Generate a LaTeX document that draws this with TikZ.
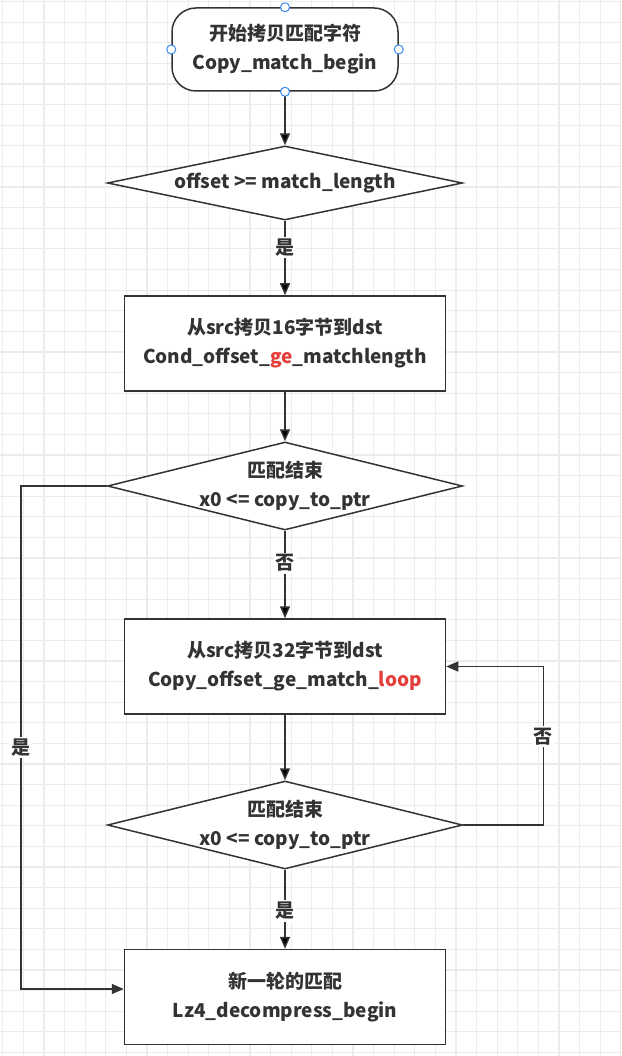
\documentclass[tikz,border=0pt]{standalone}
\usepackage{fontspec}
\setmainfont{Noto Sans CJK SC}
\usetikzlibrary{shapes.geometric,arrows.meta}
\definecolor{inkgray}{RGB}{51,51,51}
\definecolor{gridgray}{RGB}{236,236,236}
\definecolor{hilite}{RGB}{229,62,58}
\definecolor{handleblue}{RGB}{61,139,240}
\newcommand{\hl}[1]{\textcolor{hilite}{#1}}
\begin{document}
\begin{tikzpicture}[x=1pt,y=-1pt,
    font=\bfseries\fontsize{19}{29}\selectfont, text=inkgray,
    terminal/.style={draw=inkgray,line width=1.5pt,rounded corners=24pt,fill=white,
        minimum width=226pt,minimum height=83pt,align=center},
    process/.style={draw=inkgray,line width=1.5pt,fill=white,
        minimum width=321pt,minimum height=95pt,align=center},
    decision/.style={draw=inkgray,line width=1.5pt,fill=white,shape=diamond,aspect=4,
        inner xsep=-60pt,inner ysep=0pt,minimum width=355pt,minimum height=88pt,align=center},
    flow/.style={draw=inkgray,line width=1.5pt,-{Triangle[length=12pt,width=10pt]}},
    answer/.style={fill=white,inner sep=2pt},
    gridline/.style={draw=gridgray,line width=1.2pt},
    handle/.style={draw=handleblue,fill=white,line width=1pt}]
    \useasboundingbox (0,0) rectangle (621,1056);
    % background grid
    \foreach \i in {0,...,30} \draw[gridline] ({2.7+20.6*\i},0) -- ({2.7+20.6*\i},1056);
    \foreach \j in {0,...,51} \draw[gridline] (0,{1.7+20.6*\j}) -- (621,{1.7+20.6*\j});

    \node[terminal] (start) at (285,49.5) {开始拷贝匹配字符\\Copy\_match\_begin};
    \node[decision,minimum height=74pt] (cmp) at (285,183) {offset\ >=\ match\_length};
    \node[process] (copy16) at (285,343.5) {从src拷贝16字节到dst\\Cond\_offset\_\hl{ge}\_matchlength};
    \node[decision] (end1) at (285,486) {匹配结束\\x0\ <=\ copy\_to\_ptr};
    \node[process] (copy32) at (285,666.5) {从src拷贝32字节到dst\\Copy\_offset\_ge\_match\_\hl{loop}};
    \node[decision] (end2) at (285,825) {匹配结束\\x0\ <=\ copy\_to\_ptr};
    \node[process] (next) at (285,997) {新一轮的匹配\\Lz4\_decompress\_begin};

    \path [flow](start) edge (cmp);
    \path [flow](cmp) edge node[answer,pos=0.36]{是} (copy16);
    \path [flow](copy16) edge (end1);
    \path [flow](end1) edge node[answer,pos=0.37]{否} (copy32);
    \path [flow](copy32) edge (end2);
    \path [flow](end2) edge node[answer,pos=0.52]{是} (next);
    \draw [flow](end2.east) -- ++(80,0) |- node[answer,pos=0.28]{否} (copy32.east);
    \draw [flow](end1.west) -- ++(-86,0) |- node[answer,pos=0.26]{是} ([yshift=8pt]next.west);

    % selection handles
    \foreach \a in {north,west,east,south} \draw[handle] (start.\a) circle (4.5);
\end{tikzpicture}
\end{document}
